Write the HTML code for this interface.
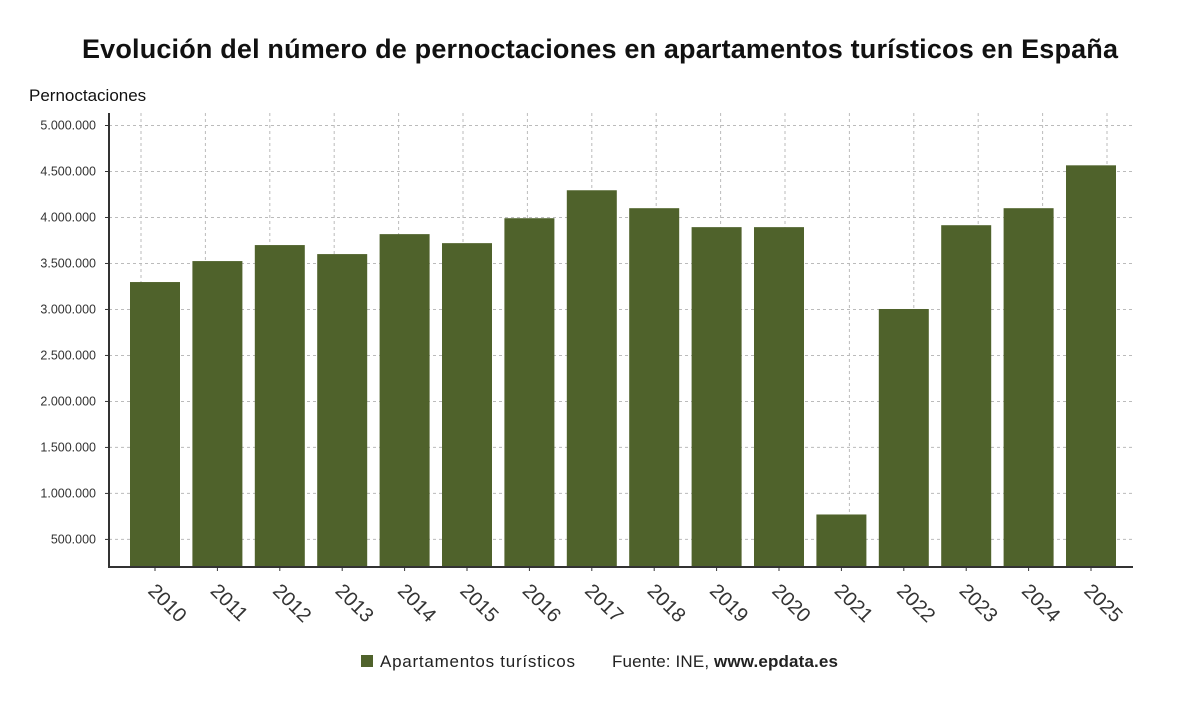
<!DOCTYPE html>
<html><head><meta charset="utf-8"><style>
body{margin:0;background:#fff;width:1200px;height:705px;overflow:hidden;font-family:"Liberation Sans",sans-serif}
</style></head><body>
<svg width="1200" height="705">
<text x="600" y="58" text-anchor="middle" font-size="27" font-weight="bold" fill="#111" textLength="1036" lengthAdjust="spacing">Evolución del número de pernoctaciones en apartamentos turísticos en España</text>
<text x="29" y="101" font-size="17" fill="#111">Pernoctaciones</text>
<g id="grid"></g><g id="bars"></g><g id="axes"></g>
<g>
<rect x="361" y="655" width="12" height="12" fill="#4f622b"/>
<text x="380" y="667" font-size="17" fill="#222" textLength="195" lengthAdjust="spacing">Apartamentos turísticos</text>
<text x="612" y="667" font-size="17" fill="#222" textLength="226" lengthAdjust="spacing">Fuente: INE, <tspan font-weight="bold">www.epdata.es</tspan></text>
</g>
</svg>
<script>
const categories=["2010","2011","2012","2013","2014","2015","2016","2017","2018","2019","2020","2021","2022","2023","2024","2025"];
const values=[3298000,3526000,3700000,3602000,3819000,3721000,3992000,4296000,4101000,3895000,3895000,771000,3005000,3916000,4101000,4567000];
const yTicks=[500000,1000000,1500000,2000000,2500000,3000000,3500000,4000000,4500000,5000000];
const yTickLabels=["500.000","1.000.000","1.500.000","2.000.000","2.500.000","3.000.000","3.500.000","4.000.000","4.500.000","5.000.000"];
const NS="http://www.w3.org/2000/svg";
const yMin=200000,yMax=5000000,y0=567,y1=125.5;
function y(v){return y0-(v-yMin)/(yMax-yMin)*(y0-y1);}
const xL=109,xR=1133,step=62.4;
function x(i){return 155+i*step;}
function mk(tag,attrs,parent){const e=document.createElementNS(NS,tag);for(const k in attrs)e.setAttribute(k,attrs[k]);document.getElementById(parent).appendChild(e);return e;}
yTicks.forEach((t,i)=>{
 const g=mk('line',{x1:xL,x2:xR,y1:y(t),y2:y(t),stroke:'#bbb','stroke-dasharray':'3,3'},'grid');
 
 
 const tk=mk('line',{x1:xL-4,x2:xL,y1:y(t),y2:y(t),stroke:'#333'},'axes');
 
 
 const tx=mk('text',{x:96,y:y(t)+4,'text-anchor':'end','font-size':'12.5',fill:'#333'},'axes');
 tx.textContent=yTickLabels[i];
 
 
});
categories.forEach((c,i)=>{
 const gx=141+i*64.4;
 const g=mk('line',{x1:gx,x2:gx,y1:113,y2:y0,stroke:'#bbb','stroke-dasharray':'3,3'},'grid');
 
 
});
categories.forEach((c,i)=>{
 const b=mk('rect',{x:x(i)-25,width:50,y:y(values[i]),height:y0-y(values[i]),fill:'#4f622b'},'bars');
 
 
 const tk=mk('line',{x1:x(i),x2:x(i),y1:y0,y2:y0+4,stroke:'#333'},'axes');
 
 
 const t=mk('text',{x:x(i)-8,y:y0+25,'font-size':'20',fill:'#333',transform:`rotate(45 ${x(i)-8} ${y0+25})`},'axes');
 t.textContent=c;
 
 
});
const ax=mk('line',{x1:xL,x2:xL,y1:113,y2:y0+1,stroke:'#333','stroke-width':2},'axes');


const bx=mk('line',{x1:xL-1,x2:xR,y1:y0,y2:y0,stroke:'#333','stroke-width':2},'axes');


</script>
</body></html>
